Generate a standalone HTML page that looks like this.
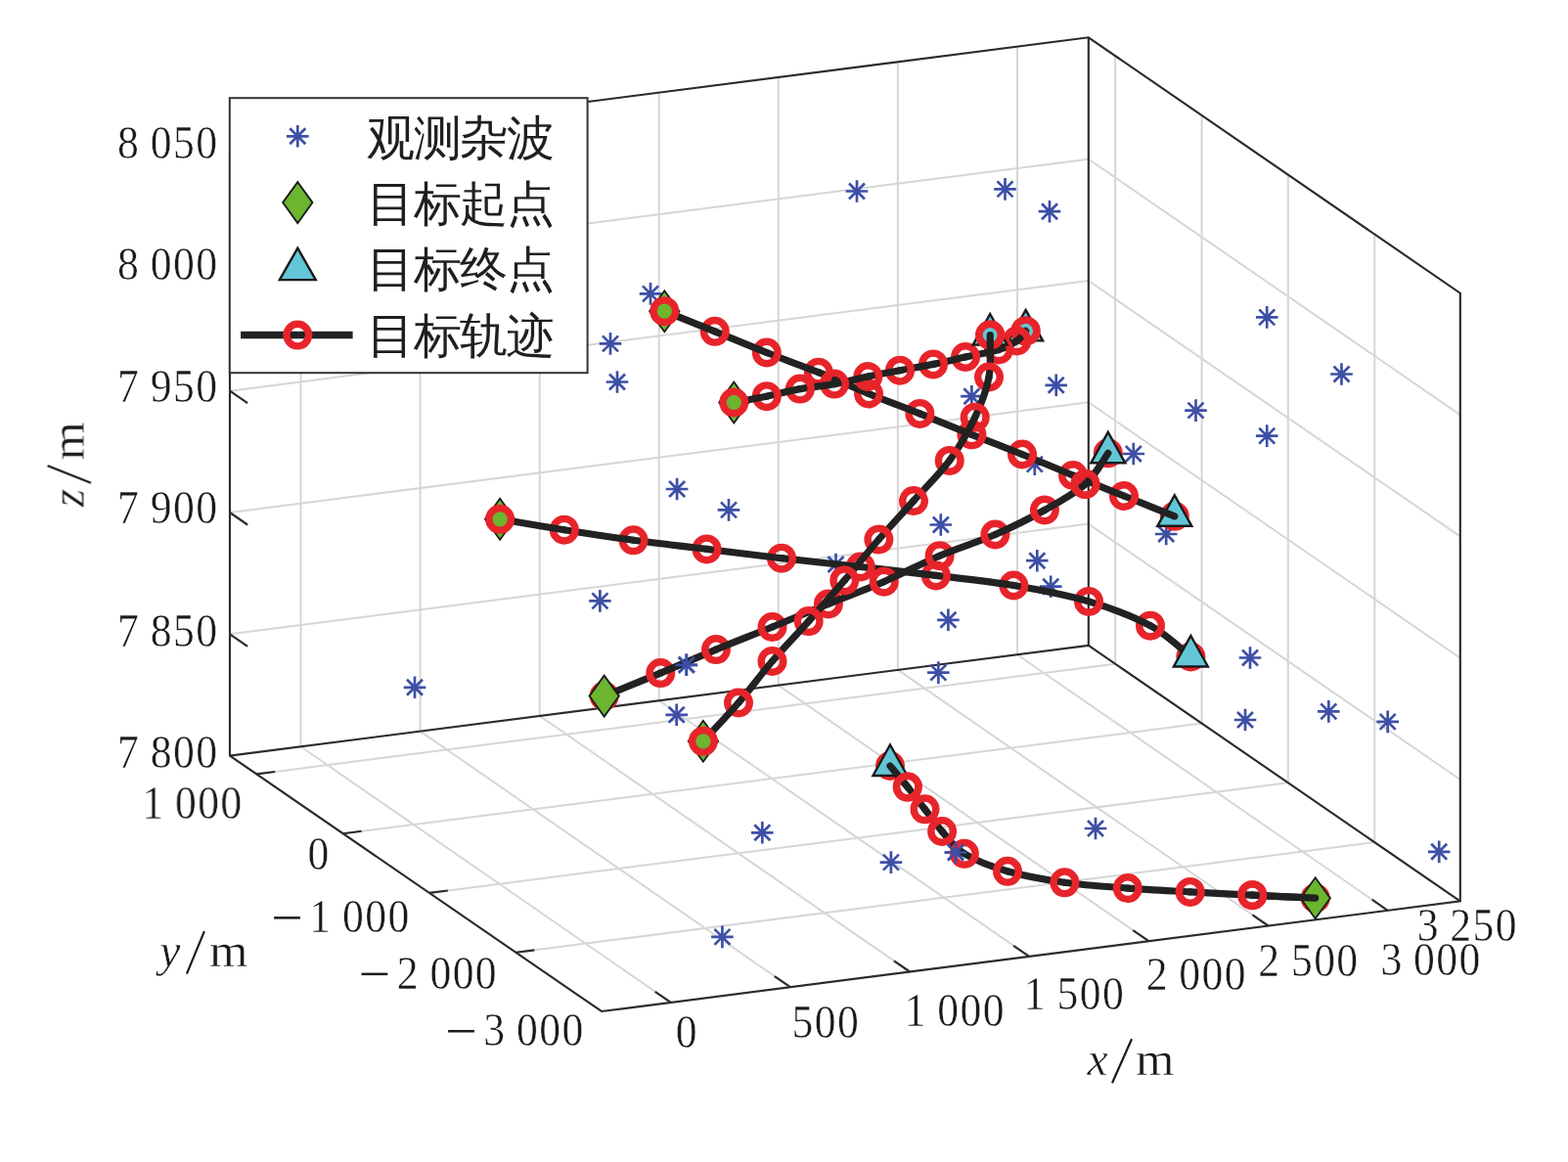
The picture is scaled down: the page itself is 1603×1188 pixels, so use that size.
<!DOCTYPE html>
<html><head><meta charset="utf-8"><title>3D track plot</title>
<style>html,body{margin:0;padding:0;background:#fff}svg{display:block;will-change:transform}text{font-family:"Liberation Serif",serif}</style>
</head><body>
<svg width="1603" height="1188" viewBox="0 0 1603 1188" role="img" aria-label="3D plot of target tracks, clutter observations, start and end points">
<g stroke-linecap="butt">
<line x1="307.5" y1="763.3" x2="685.8" y2="1024.9" stroke="#d6d6d6" stroke-width="2.0" />
<line x1="429.6" y1="747.6" x2="808.0" y2="1009.2" stroke="#d6d6d6" stroke-width="2.0" />
<line x1="551.7" y1="731.9" x2="930.1" y2="993.5" stroke="#d6d6d6" stroke-width="2.0" />
<line x1="673.7" y1="716.3" x2="1052.2" y2="977.9" stroke="#d6d6d6" stroke-width="2.0" />
<line x1="795.8" y1="700.6" x2="1174.4" y2="962.2" stroke="#d6d6d6" stroke-width="2.0" />
<line x1="917.9" y1="684.9" x2="1296.5" y2="946.5" stroke="#d6d6d6" stroke-width="2.0" />
<line x1="1040.0" y1="669.2" x2="1418.7" y2="930.8" stroke="#d6d6d6" stroke-width="2.0" />
<line x1="262.3" y1="791.4" x2="1140.1" y2="678.7" stroke="#d6d6d6" stroke-width="2.0" />
<line x1="350.8" y1="852.3" x2="1228.6" y2="739.6" stroke="#d6d6d6" stroke-width="2.0" />
<line x1="439.0" y1="912.9" x2="1316.8" y2="800.2" stroke="#d6d6d6" stroke-width="2.0" />
<line x1="527.5" y1="973.8" x2="1405.3" y2="861.1" stroke="#d6d6d6" stroke-width="2.0" />
<line x1="307.5" y1="763.3" x2="307.5" y2="141.7" stroke="#d6d6d6" stroke-width="2.0" />
<line x1="429.6" y1="747.6" x2="429.6" y2="126.0" stroke="#d6d6d6" stroke-width="2.0" />
<line x1="551.7" y1="731.9" x2="551.7" y2="110.3" stroke="#d6d6d6" stroke-width="2.0" />
<line x1="673.7" y1="716.3" x2="673.7" y2="94.7" stroke="#d6d6d6" stroke-width="2.0" />
<line x1="795.8" y1="700.6" x2="795.8" y2="79.0" stroke="#d6d6d6" stroke-width="2.0" />
<line x1="917.9" y1="684.9" x2="917.9" y2="63.3" stroke="#d6d6d6" stroke-width="2.0" />
<line x1="1040.0" y1="669.2" x2="1040.0" y2="47.6" stroke="#d6d6d6" stroke-width="2.0" />
<line x1="235.0" y1="648.3" x2="1112.8" y2="535.6" stroke="#d6d6d6" stroke-width="2.0" />
<line x1="235.0" y1="524.0" x2="1112.8" y2="411.3" stroke="#d6d6d6" stroke-width="2.0" />
<line x1="235.0" y1="399.7" x2="1112.8" y2="287.0" stroke="#d6d6d6" stroke-width="2.0" />
<line x1="235.0" y1="275.4" x2="1112.8" y2="162.7" stroke="#d6d6d6" stroke-width="2.0" />
<line x1="1140.1" y1="678.7" x2="1140.1" y2="57.1" stroke="#d6d6d6" stroke-width="2.0" />
<line x1="1228.6" y1="739.6" x2="1228.6" y2="118.0" stroke="#d6d6d6" stroke-width="2.0" />
<line x1="1316.8" y1="800.2" x2="1316.8" y2="178.6" stroke="#d6d6d6" stroke-width="2.0" />
<line x1="1405.3" y1="861.1" x2="1405.3" y2="239.5" stroke="#d6d6d6" stroke-width="2.0" />
<line x1="1112.8" y1="535.6" x2="1492.8" y2="797.0" stroke="#d6d6d6" stroke-width="2.0" />
<line x1="1112.8" y1="411.3" x2="1492.8" y2="672.7" stroke="#d6d6d6" stroke-width="2.0" />
<line x1="1112.8" y1="287.0" x2="1492.8" y2="548.4" stroke="#d6d6d6" stroke-width="2.0" />
<line x1="1112.8" y1="162.7" x2="1492.8" y2="424.1" stroke="#d6d6d6" stroke-width="2.0" />
</g>
<polyline points="235.0,151.0 235.0,772.6 615.0,1034.0 1492.8,921.3 1492.8,299.7 1112.8,38.3 235.0,151.0" fill="none" stroke="#2b2b2b" stroke-width="2.15" stroke-linejoin="miter"/>
<polyline points="235.0,772.6 1112.8,659.9 1492.8,921.3" fill="none" stroke="#2b2b2b" stroke-width="2.15" />
<line x1="1112.8" y1="659.9" x2="1112.8" y2="38.3" stroke="#2b2b2b" stroke-width="2.15" />
<line x1="235.0" y1="648.3" x2="253.1" y2="660.8" stroke="#2b2b2b" stroke-width="2.15" />
<line x1="235.0" y1="524.0" x2="253.1" y2="536.5" stroke="#2b2b2b" stroke-width="2.15" />
<line x1="235.0" y1="399.7" x2="253.1" y2="412.2" stroke="#2b2b2b" stroke-width="2.15" />
<line x1="235.0" y1="275.4" x2="253.1" y2="287.9" stroke="#2b2b2b" stroke-width="2.15" />
<line x1="235.0" y1="151.1" x2="253.1" y2="163.6" stroke="#2b2b2b" stroke-width="2.15" />
<line x1="262.3" y1="791.4" x2="281.1" y2="789.0" stroke="#2b2b2b" stroke-width="2.15" />
<line x1="350.8" y1="852.3" x2="369.6" y2="849.8" stroke="#2b2b2b" stroke-width="2.15" />
<line x1="439.0" y1="912.9" x2="457.8" y2="910.5" stroke="#2b2b2b" stroke-width="2.15" />
<line x1="527.5" y1="973.8" x2="546.3" y2="971.4" stroke="#2b2b2b" stroke-width="2.15" />
<line x1="685.8" y1="1024.9" x2="669.7" y2="1013.8" stroke="#2b2b2b" stroke-width="2.15" />
<line x1="808.0" y1="1009.2" x2="791.8" y2="998.1" stroke="#2b2b2b" stroke-width="2.15" />
<line x1="930.1" y1="993.5" x2="914.0" y2="982.4" stroke="#2b2b2b" stroke-width="2.15" />
<line x1="1052.2" y1="977.9" x2="1036.1" y2="966.8" stroke="#2b2b2b" stroke-width="2.15" />
<line x1="1174.4" y1="962.2" x2="1158.3" y2="951.1" stroke="#2b2b2b" stroke-width="2.15" />
<line x1="1296.5" y1="946.5" x2="1280.4" y2="935.4" stroke="#2b2b2b" stroke-width="2.15" />
<line x1="1418.7" y1="930.8" x2="1402.6" y2="919.7" stroke="#2b2b2b" stroke-width="2.15" />
<path d="M653.7 300.4H676.3M665.0 289.1V311.7M657.0 292.4L673.0 308.4M657.0 308.4L673.0 292.4" stroke="#3d4fa6" stroke-width="2.7" fill="none"/>
<path d="M612.7 351.4H635.3M624.0 340.1V362.7M616.0 343.4L632.0 359.4M616.0 359.4L632.0 343.4" stroke="#3d4fa6" stroke-width="2.7" fill="none"/>
<path d="M619.7 390.5H642.3M631.0 379.2V401.8M623.0 382.5L639.0 398.5M623.0 398.5L639.0 382.5" stroke="#3d4fa6" stroke-width="2.7" fill="none"/>
<path d="M680.8 500.0H703.4M692.1 488.7V511.3M684.1 492.0L700.1 508.0M684.1 508.0L700.1 492.0" stroke="#3d4fa6" stroke-width="2.7" fill="none"/>
<path d="M733.7 521.4H756.3M745.0 510.1V532.7M737.0 513.4L753.0 529.4M737.0 529.4L753.0 513.4" stroke="#3d4fa6" stroke-width="2.7" fill="none"/>
<path d="M982.1 405.2H1004.7M993.4 393.9V416.5M985.4 397.2L1001.4 413.2M985.4 413.2L1001.4 397.2" stroke="#3d4fa6" stroke-width="2.7" fill="none"/>
<path d="M1068.4 393.8H1091.0M1079.7 382.5V405.1M1071.7 385.8L1087.7 401.8M1071.7 401.8L1087.7 385.8" stroke="#3d4fa6" stroke-width="2.7" fill="none"/>
<path d="M1147.5 464.0H1170.1M1158.8 452.7V475.3M1150.8 456.0L1166.8 472.0M1150.8 472.0L1166.8 456.0" stroke="#3d4fa6" stroke-width="2.7" fill="none"/>
<path d="M1046.5 474.6H1069.1M1057.8 463.3V485.9M1049.8 466.6L1065.8 482.6M1049.8 482.6L1065.8 466.6" stroke="#3d4fa6" stroke-width="2.7" fill="none"/>
<path d="M950.5 536.5H973.1M961.8 525.2V547.8M953.8 528.5L969.8 544.5M953.8 544.5L969.8 528.5" stroke="#3d4fa6" stroke-width="2.7" fill="none"/>
<path d="M1283.9 324.4H1306.5M1295.2 313.1V335.7M1287.2 316.4L1303.2 332.4M1287.2 332.4L1303.2 316.4" stroke="#3d4fa6" stroke-width="2.7" fill="none"/>
<path d="M1360.2 382.5H1382.8M1371.5 371.2V393.8M1363.5 374.5L1379.5 390.5M1363.5 390.5L1379.5 374.5" stroke="#3d4fa6" stroke-width="2.7" fill="none"/>
<path d="M1211.2 419.6H1233.8M1222.5 408.3V430.9M1214.5 411.6L1230.5 427.6M1214.5 427.6L1230.5 411.6" stroke="#3d4fa6" stroke-width="2.7" fill="none"/>
<path d="M1283.9 445.6H1306.5M1295.2 434.3V456.9M1287.2 437.6L1303.2 453.6M1287.2 453.6L1303.2 437.6" stroke="#3d4fa6" stroke-width="2.7" fill="none"/>
<path d="M1180.9 546.0H1203.5M1192.2 534.7V557.3M1184.2 538.0L1200.2 554.0M1184.2 554.0L1200.2 538.0" stroke="#3d4fa6" stroke-width="2.7" fill="none"/>
<path d="M602.1 614.4H624.7M613.4 603.1V625.7M605.4 606.4L621.4 622.4M605.4 622.4L621.4 606.4" stroke="#3d4fa6" stroke-width="2.7" fill="none"/>
<path d="M412.7 702.8H435.3M424.0 691.5V714.1M416.0 694.8L432.0 710.8M416.0 710.8L432.0 694.8" stroke="#3d4fa6" stroke-width="2.7" fill="none"/>
<path d="M690.5 679.8H713.1M701.8 668.5V691.1M693.8 671.8L709.8 687.8M693.8 687.8L709.8 671.8" stroke="#3d4fa6" stroke-width="2.7" fill="none"/>
<path d="M680.4 730.8H703.0M691.7 719.5V742.1M683.7 722.8L699.7 738.8M683.7 738.8L699.7 722.8" stroke="#3d4fa6" stroke-width="2.7" fill="none"/>
<path d="M1049.0 573.2H1071.6M1060.3 561.9V584.5M1052.3 565.2L1068.3 581.2M1052.3 581.2L1068.3 565.2" stroke="#3d4fa6" stroke-width="2.7" fill="none"/>
<path d="M1062.9 599.7H1085.5M1074.2 588.4V611.0M1066.2 591.7L1082.2 607.7M1066.2 607.7L1082.2 591.7" stroke="#3d4fa6" stroke-width="2.7" fill="none"/>
<path d="M843.2 577.0H865.8M854.5 565.7V588.3M846.5 569.0L862.5 585.0M846.5 585.0L862.5 569.0" stroke="#3d4fa6" stroke-width="2.7" fill="none"/>
<path d="M958.1 633.8H980.7M969.4 622.5V645.1M961.4 625.8L977.4 641.8M961.4 641.8L977.4 625.8" stroke="#3d4fa6" stroke-width="2.7" fill="none"/>
<path d="M948.0 687.6H970.6M959.3 676.3V698.9M951.3 679.6L967.3 695.6M951.3 695.6L967.3 679.6" stroke="#3d4fa6" stroke-width="2.7" fill="none"/>
<path d="M1266.7 672.5H1289.3M1278.0 661.2V683.8M1270.0 664.5L1286.0 680.5M1270.0 680.5L1286.0 664.5" stroke="#3d4fa6" stroke-width="2.7" fill="none"/>
<path d="M1261.7 736.0H1284.3M1273.0 724.7V747.3M1265.0 728.0L1281.0 744.0M1265.0 744.0L1281.0 728.0" stroke="#3d4fa6" stroke-width="2.7" fill="none"/>
<path d="M1347.0 727.4H1369.6M1358.3 716.1V738.7M1350.3 719.4L1366.3 735.4M1350.3 735.4L1366.3 719.4" stroke="#3d4fa6" stroke-width="2.7" fill="none"/>
<path d="M1407.4 737.9H1430.0M1418.7 726.6V749.2M1410.7 729.9L1426.7 745.9M1410.7 745.9L1426.7 729.9" stroke="#3d4fa6" stroke-width="2.7" fill="none"/>
<path d="M768.0 851.3H790.6M779.3 840.0V862.6M771.3 843.3L787.3 859.3M771.3 859.3L787.3 843.3" stroke="#3d4fa6" stroke-width="2.7" fill="none"/>
<path d="M899.6 881.6H922.2M910.9 870.3V892.9M902.9 873.6L918.9 889.6M902.9 889.6L918.9 873.6" stroke="#3d4fa6" stroke-width="2.7" fill="none"/>
<path d="M965.7 871.5H988.3M977.0 860.2V882.8M969.0 863.5L985.0 879.5M969.0 879.5L985.0 863.5" stroke="#3d4fa6" stroke-width="2.7" fill="none"/>
<path d="M727.1 957.9H749.7M738.4 946.6V969.2M730.4 949.9L746.4 965.9M730.4 965.9L746.4 949.9" stroke="#3d4fa6" stroke-width="2.7" fill="none"/>
<path d="M1108.7 847.0H1131.3M1120.0 835.7V858.3M1112.0 839.0L1128.0 855.0M1112.0 855.0L1128.0 839.0" stroke="#3d4fa6" stroke-width="2.7" fill="none"/>
<path d="M864.7 195.5H887.3M876.0 184.2V206.8M868.0 187.5L884.0 203.5M868.0 203.5L884.0 187.5" stroke="#3d4fa6" stroke-width="2.7" fill="none"/>
<path d="M1016.2 193.4H1038.8M1027.5 182.1V204.7M1019.5 185.4L1035.5 201.4M1019.5 201.4L1035.5 185.4" stroke="#3d4fa6" stroke-width="2.7" fill="none"/>
<path d="M1061.7 216.2H1084.3M1073.0 204.9V227.5M1065.0 208.2L1081.0 224.2M1065.0 224.2L1081.0 208.2" stroke="#3d4fa6" stroke-width="2.7" fill="none"/>
<path d="M1459.9 870.8H1482.5M1471.2 859.5V882.1M1463.2 862.8L1479.2 878.8M1463.2 878.8L1479.2 862.8" stroke="#3d4fa6" stroke-width="2.7" fill="none"/>
<g><path d="M1344.7 918.2C1334.0 917.7 1301.6 916.2 1280.3 915.2" fill="none" stroke="#222222" stroke-width="7.2" stroke-linecap="round"/><path d="M1280.3 915.2C1259.0 914.2 1238.0 913.1 1216.7 911.9" fill="none" stroke="#222222" stroke-width="7.2" stroke-linecap="round"/><path d="M1216.7 911.9C1195.5 910.7 1174.2 909.7 1152.8 908.1" fill="none" stroke="#222222" stroke-width="7.2" stroke-linecap="round"/><path d="M1152.8 908.1C1131.4 906.5 1108.9 905.2 1088.4 902.3" fill="none" stroke="#222222" stroke-width="7.2" stroke-linecap="round"/><path d="M1088.4 902.3C1067.9 899.4 1047.1 895.7 1030.0 890.8" fill="none" stroke="#222222" stroke-width="7.2" stroke-linecap="round"/><path d="M1030.0 890.8C1012.9 885.9 997.0 879.6 985.9 872.8" fill="none" stroke="#222222" stroke-width="7.2" stroke-linecap="round"/><path d="M985.9 872.8C974.8 866.0 969.8 857.6 963.1 850.0" fill="none" stroke="#222222" stroke-width="7.2" stroke-linecap="round"/><path d="M963.1 850.0C956.4 842.4 951.4 834.9 945.5 827.3" fill="none" stroke="#222222" stroke-width="7.2" stroke-linecap="round"/><path d="M945.5 827.3C939.6 819.7 933.7 812.0 927.8 804.6" fill="none" stroke="#222222" stroke-width="7.2" stroke-linecap="round"/><path d="M927.8 804.6C921.9 797.2 913.0 786.6 910.0 783.0" fill="none" stroke="#222222" stroke-width="7.2" stroke-linecap="round"/><circle cx="1344.7" cy="918.2" r="11.3" fill="none" stroke="#e8242b" stroke-width="7.4"/><circle cx="1280.3" cy="915.2" r="11.3" fill="none" stroke="#e8242b" stroke-width="7.4"/><circle cx="1216.7" cy="911.9" r="11.3" fill="none" stroke="#e8242b" stroke-width="7.4"/><circle cx="1152.8" cy="908.1" r="11.3" fill="none" stroke="#e8242b" stroke-width="7.4"/><circle cx="1088.4" cy="902.3" r="11.3" fill="none" stroke="#e8242b" stroke-width="7.4"/><circle cx="1030.0" cy="890.8" r="11.3" fill="none" stroke="#e8242b" stroke-width="7.4"/><circle cx="985.9" cy="872.8" r="11.3" fill="none" stroke="#e8242b" stroke-width="7.4"/><circle cx="963.1" cy="850.0" r="11.3" fill="none" stroke="#e8242b" stroke-width="7.4"/><circle cx="945.5" cy="827.3" r="11.3" fill="none" stroke="#e8242b" stroke-width="7.4"/><circle cx="927.8" cy="804.6" r="11.3" fill="none" stroke="#e8242b" stroke-width="7.4"/><circle cx="910.0" cy="783.0" r="11.3" fill="none" stroke="#e8242b" stroke-width="7.4"/><polygon points="1344.7,897.2 1359.9,918.2 1344.7,939.2 1329.5,918.2" fill="#6cb52f" stroke="#1a1a1a" stroke-width="1.8" stroke-linejoin="miter"/><path d="M1344.7 918.2C1334.0 917.7 1301.6 916.2 1280.3 915.2" fill="none" stroke="#222222" stroke-width="7.2" stroke-linecap="round"/><circle cx="1280.3" cy="915.2" r="11.3" fill="none" stroke="#e8242b" stroke-width="7.4"/><polygon points="910.0,761.5 927.5,793.0 892.5,793.0" fill="#62c6d6" stroke="#1a1a1a" stroke-width="2.4" stroke-linejoin="miter"/><path d="M927.8 804.6C921.9 797.2 913.0 786.6 910.0 783.0" fill="none" stroke="#222222" stroke-width="7.2" stroke-linecap="round"/><circle cx="927.8" cy="804.6" r="11.3" fill="none" stroke="#e8242b" stroke-width="7.4"/></g>
<g><circle cx="1217.4" cy="671.5" r="11.3" fill="none" stroke="#e8242b" stroke-width="7.4"/><path d="M1176.0 639.7C1193.4 649.1 1210.5 666.2 1217.4 671.5" fill="none" stroke="#222222" stroke-width="7.2" stroke-linecap="round"/><polygon points="1217.4,650.0 1234.9,681.5 1199.9,681.5" fill="#62c6d6" stroke="#1a1a1a" stroke-width="2.4" stroke-linejoin="miter"/><circle cx="1176.0" cy="639.7" r="11.3" fill="none" stroke="#e8242b" stroke-width="7.4"/><path d="M1113.0 614.9C1136.3 621.8 1158.6 630.3 1176.0 639.7" fill="none" stroke="#222222" stroke-width="7.2" stroke-linecap="round"/><circle cx="1113.0" cy="614.9" r="11.3" fill="none" stroke="#e8242b" stroke-width="7.4"/><path d="M1036.3 598.5C1062.3 602.9 1089.7 608.0 1113.0 614.9" fill="none" stroke="#222222" stroke-width="7.2" stroke-linecap="round"/><circle cx="1036.3" cy="598.5" r="11.3" fill="none" stroke="#e8242b" stroke-width="7.4"/><path d="M956.8 588.4C982.9 591.6 1010.3 594.1 1036.3 598.5" fill="none" stroke="#222222" stroke-width="7.2" stroke-linecap="round"/><circle cx="956.8" cy="588.4" r="11.3" fill="none" stroke="#e8242b" stroke-width="7.4"/><path d="M879.7 579.5C906.0 582.5 930.7 585.2 956.8 588.4" fill="none" stroke="#222222" stroke-width="7.2" stroke-linecap="round"/><circle cx="879.7" cy="579.5" r="11.3" fill="none" stroke="#e8242b" stroke-width="7.4"/><path d="M799.0 570.7C825.2 573.7 853.4 576.5 879.7 579.5" fill="none" stroke="#222222" stroke-width="7.2" stroke-linecap="round"/><circle cx="799.0" cy="570.7" r="11.3" fill="none" stroke="#e8242b" stroke-width="7.4"/><path d="M722.5 561.4C747.8 564.5 772.8 567.7 799.0 570.7" fill="none" stroke="#222222" stroke-width="7.2" stroke-linecap="round"/><circle cx="722.5" cy="561.4" r="11.3" fill="none" stroke="#e8242b" stroke-width="7.4"/><path d="M647.5 552.3C671.8 555.6 697.2 558.3 722.5 561.4" fill="none" stroke="#222222" stroke-width="7.2" stroke-linecap="round"/><circle cx="647.5" cy="552.3" r="11.3" fill="none" stroke="#e8242b" stroke-width="7.4"/><path d="M576.8 541.7C599.5 545.3 623.2 549.0 647.5 552.3" fill="none" stroke="#222222" stroke-width="7.2" stroke-linecap="round"/><circle cx="576.8" cy="541.7" r="11.3" fill="none" stroke="#e8242b" stroke-width="7.4"/><path d="M511.1 530.8C522.0 532.6 554.1 538.1 576.8 541.7" fill="none" stroke="#222222" stroke-width="7.2" stroke-linecap="round"/><polygon points="511.1,509.8 526.3,530.8 511.1,551.8 495.9,530.8" fill="#6cb52f" stroke="#1a1a1a" stroke-width="1.8" stroke-linejoin="miter"/><circle cx="511.1" cy="530.8" r="11.3" fill="none" stroke="#e8242b" stroke-width="7.4"/></g>
<g><circle cx="1200.8" cy="527.8" r="11.3" fill="none" stroke="#e8242b" stroke-width="7.4"/><polygon points="1200.8,506.3 1218.3,537.8 1183.3,537.8" fill="#62c6d6" stroke="#1a1a1a" stroke-width="2.4" stroke-linejoin="miter"/><path d="M1149.0 507.0C1166.3 514.0 1192.2 524.3 1200.8 527.8" fill="none" stroke="#222222" stroke-width="7.2" stroke-linecap="round"/><circle cx="1149.0" cy="507.0" r="11.3" fill="none" stroke="#e8242b" stroke-width="7.4"/><path d="M1097.0 486.0C1114.3 493.1 1131.7 500.0 1149.0 507.0" fill="none" stroke="#222222" stroke-width="7.2" stroke-linecap="round"/><circle cx="1097.0" cy="486.0" r="11.3" fill="none" stroke="#e8242b" stroke-width="7.4"/><path d="M1045.0 464.5C1062.3 471.4 1079.7 478.9 1097.0 486.0" fill="none" stroke="#222222" stroke-width="7.2" stroke-linecap="round"/><circle cx="1045.0" cy="464.5" r="11.3" fill="none" stroke="#e8242b" stroke-width="7.4"/><path d="M993.4 444.3C1010.8 451.2 1027.7 457.6 1045.0 464.5" fill="none" stroke="#222222" stroke-width="7.2" stroke-linecap="round"/><circle cx="993.4" cy="444.3" r="11.3" fill="none" stroke="#e8242b" stroke-width="7.4"/><path d="M940.4 422.9C958.0 429.9 976.0 437.4 993.4 444.3" fill="none" stroke="#222222" stroke-width="7.2" stroke-linecap="round"/><circle cx="940.4" cy="422.9" r="11.3" fill="none" stroke="#e8242b" stroke-width="7.4"/><path d="M888.0 402.5C905.3 409.5 922.8 415.9 940.4 422.9" fill="none" stroke="#222222" stroke-width="7.2" stroke-linecap="round"/><circle cx="888.0" cy="402.5" r="11.3" fill="none" stroke="#e8242b" stroke-width="7.4"/><path d="M836.8 380.7C854.2 387.7 870.7 395.5 888.0 402.5" fill="none" stroke="#222222" stroke-width="7.2" stroke-linecap="round"/><circle cx="836.8" cy="380.7" r="11.3" fill="none" stroke="#e8242b" stroke-width="7.4"/><path d="M783.8 360.5C801.5 367.5 819.4 373.7 836.8 380.7" fill="none" stroke="#222222" stroke-width="7.2" stroke-linecap="round"/><circle cx="783.8" cy="360.5" r="11.3" fill="none" stroke="#e8242b" stroke-width="7.4"/><path d="M730.8 338.8C748.2 345.9 766.1 353.5 783.8 360.5" fill="none" stroke="#222222" stroke-width="7.2" stroke-linecap="round"/><circle cx="730.8" cy="338.8" r="11.3" fill="none" stroke="#e8242b" stroke-width="7.4"/><path d="M679.3 318.2C687.9 321.6 713.4 331.8 730.8 338.8" fill="none" stroke="#222222" stroke-width="7.2" stroke-linecap="round"/><polygon points="679.3,297.2 694.5,318.2 679.3,339.2 664.1,318.2" fill="#6cb52f" stroke="#1a1a1a" stroke-width="1.8" stroke-linejoin="miter"/><circle cx="679.3" cy="318.2" r="11.3" fill="none" stroke="#e8242b" stroke-width="7.4"/></g>
<g><circle cx="617.7" cy="711.6" r="11.3" fill="none" stroke="#e8242b" stroke-width="7.4"/><path d="M617.7 711.6C627.3 707.7 656.2 696.0 675.3 688.1" fill="none" stroke="#222222" stroke-width="7.2" stroke-linecap="round"/><circle cx="675.3" cy="688.1" r="11.3" fill="none" stroke="#e8242b" stroke-width="7.4"/><path d="M675.3 688.1C694.3 680.2 713.0 672.0 732.0 664.1" fill="none" stroke="#222222" stroke-width="7.2" stroke-linecap="round"/><circle cx="732.0" cy="664.1" r="11.3" fill="none" stroke="#e8242b" stroke-width="7.4"/><path d="M732.0 664.1C751.0 656.2 770.4 648.8 789.5 641.0" fill="none" stroke="#222222" stroke-width="7.2" stroke-linecap="round"/><circle cx="789.5" cy="641.0" r="11.3" fill="none" stroke="#e8242b" stroke-width="7.4"/><path d="M789.5 641.0C808.6 633.2 827.9 625.1 846.9 617.4" fill="none" stroke="#222222" stroke-width="7.2" stroke-linecap="round"/><circle cx="846.9" cy="617.4" r="11.3" fill="none" stroke="#e8242b" stroke-width="7.4"/><path d="M846.9 617.4C865.9 609.7 884.8 602.9 903.7 594.7" fill="none" stroke="#222222" stroke-width="7.2" stroke-linecap="round"/><circle cx="903.7" cy="594.7" r="11.3" fill="none" stroke="#e8242b" stroke-width="7.4"/><path d="M903.7 594.7C922.7 586.5 941.7 576.2 960.6 568.2" fill="none" stroke="#222222" stroke-width="7.2" stroke-linecap="round"/><circle cx="960.6" cy="568.2" r="11.3" fill="none" stroke="#e8242b" stroke-width="7.4"/><path d="M960.6 568.2C979.5 560.2 999.5 554.3 1017.4 546.5" fill="none" stroke="#222222" stroke-width="7.2" stroke-linecap="round"/><circle cx="1017.4" cy="546.5" r="11.3" fill="none" stroke="#e8242b" stroke-width="7.4"/><path d="M1017.4 546.5C1035.3 538.7 1052.6 530.1 1067.9 521.5" fill="none" stroke="#222222" stroke-width="7.2" stroke-linecap="round"/><circle cx="1067.9" cy="521.5" r="11.3" fill="none" stroke="#e8242b" stroke-width="7.4"/><path d="M1067.9 521.5C1083.2 512.9 1098.7 504.7 1109.5 495.0" fill="none" stroke="#222222" stroke-width="7.2" stroke-linecap="round"/><circle cx="1109.5" cy="495.0" r="11.3" fill="none" stroke="#e8242b" stroke-width="7.4"/><path d="M1109.5 495.0C1120.3 485.3 1128.9 468.6 1132.8 463.3" fill="none" stroke="#222222" stroke-width="7.2" stroke-linecap="round"/><circle cx="1132.8" cy="463.3" r="11.3" fill="none" stroke="#e8242b" stroke-width="7.4"/><polygon points="617.7,690.6 632.9,711.6 617.7,732.6 602.5,711.6" fill="#6cb52f" stroke="#1a1a1a" stroke-width="1.8" stroke-linejoin="miter"/><polygon points="1132.8,441.8 1150.3,473.3 1115.3,473.3" fill="#62c6d6" stroke="#1a1a1a" stroke-width="2.4" stroke-linejoin="miter"/><path d="M1109.5 495.0C1120.3 485.3 1128.9 468.6 1132.8 463.3" fill="none" stroke="#222222" stroke-width="7.2" stroke-linecap="round"/><circle cx="1109.5" cy="495.0" r="11.3" fill="none" stroke="#e8242b" stroke-width="7.4"/></g>
<g><polygon points="1048.6,316.9 1066.1,348.4 1031.1,348.4" fill="#62c6d6" stroke="#1a1a1a" stroke-width="2.4" stroke-linejoin="miter"/><circle cx="1048.6" cy="338.4" r="11.3" fill="none" stroke="#e8242b" stroke-width="7.4"/><circle cx="1048.6" cy="338.4" r="11.3" fill="none" stroke="#e8242b" stroke-width="7.4"/><path d="M1039.5 348.5C1044.1 345.3 1047.1 340.1 1048.6 338.4" fill="none" stroke="#222222" stroke-width="7.2" stroke-linecap="round"/><circle cx="1039.5" cy="348.5" r="11.3" fill="none" stroke="#e8242b" stroke-width="7.4"/><path d="M1021.0 357.5C1029.8 354.8 1034.9 351.7 1039.5 348.5" fill="none" stroke="#222222" stroke-width="7.2" stroke-linecap="round"/><circle cx="1021.0" cy="357.5" r="11.3" fill="none" stroke="#e8242b" stroke-width="7.4"/><path d="M987.0 365.0C998.2 362.5 1012.2 360.2 1021.0 357.5" fill="none" stroke="#222222" stroke-width="7.2" stroke-linecap="round"/><circle cx="987.0" cy="365.0" r="11.3" fill="none" stroke="#e8242b" stroke-width="7.4"/><path d="M954.0 372.4C965.2 370.1 975.8 367.5 987.0 365.0" fill="none" stroke="#222222" stroke-width="7.2" stroke-linecap="round"/><circle cx="954.0" cy="372.4" r="11.3" fill="none" stroke="#e8242b" stroke-width="7.4"/><path d="M920.0 378.7C931.1 376.6 942.8 374.7 954.0 372.4" fill="none" stroke="#222222" stroke-width="7.2" stroke-linecap="round"/><circle cx="920.0" cy="378.7" r="11.3" fill="none" stroke="#e8242b" stroke-width="7.4"/><path d="M887.3 385.0C898.5 382.7 908.9 380.8 920.0 378.7" fill="none" stroke="#222222" stroke-width="7.2" stroke-linecap="round"/><circle cx="887.3" cy="385.0" r="11.3" fill="none" stroke="#e8242b" stroke-width="7.4"/><path d="M853.0 392.6C864.6 390.5 876.1 387.3 887.3 385.0" fill="none" stroke="#222222" stroke-width="7.2" stroke-linecap="round"/><circle cx="853.0" cy="392.6" r="11.3" fill="none" stroke="#e8242b" stroke-width="7.4"/><path d="M817.9 397.6C829.4 395.5 841.4 394.7 853.0 392.6" fill="none" stroke="#222222" stroke-width="7.2" stroke-linecap="round"/><circle cx="817.9" cy="397.6" r="11.3" fill="none" stroke="#e8242b" stroke-width="7.4"/><path d="M783.8 405.2C795.1 402.9 806.4 399.7 817.9 397.6" fill="none" stroke="#222222" stroke-width="7.2" stroke-linecap="round"/><circle cx="783.8" cy="405.2" r="11.3" fill="none" stroke="#e8242b" stroke-width="7.4"/><path d="M750.3 411.5C755.9 410.4 772.5 407.5 783.8 405.2" fill="none" stroke="#222222" stroke-width="7.2" stroke-linecap="round"/><polygon points="750.3,390.5 765.5,411.5 750.3,432.5 735.1,411.5" fill="#6cb52f" stroke="#1a1a1a" stroke-width="1.8" stroke-linejoin="miter"/><circle cx="750.3" cy="411.5" r="11.3" fill="none" stroke="#e8242b" stroke-width="7.4"/></g>
<g><polygon points="1012.2,321.0 1029.7,352.5 994.7,352.5" fill="#62c6d6" stroke="#1a1a1a" stroke-width="2.4" stroke-linejoin="miter"/><circle cx="1012.2" cy="342.5" r="11.3" fill="none" stroke="#e8242b" stroke-width="7.4"/><circle cx="1012.2" cy="342.5" r="11.3" fill="none" stroke="#e8242b" stroke-width="7.4"/><path d="M1011.0 385.5C1013.6 371.5 1012.0 349.7 1012.2 342.5" fill="none" stroke="#222222" stroke-width="7.2" stroke-linecap="round"/><circle cx="1011.0" cy="385.5" r="11.3" fill="none" stroke="#e8242b" stroke-width="7.4"/><path d="M996.7 426.7C1003.4 412.5 1008.4 399.5 1011.0 385.5" fill="none" stroke="#222222" stroke-width="7.2" stroke-linecap="round"/><circle cx="996.7" cy="426.7" r="11.3" fill="none" stroke="#e8242b" stroke-width="7.4"/><path d="M970.7 470.9C981.2 456.7 990.0 440.9 996.7 426.7" fill="none" stroke="#222222" stroke-width="7.2" stroke-linecap="round"/><circle cx="970.7" cy="470.9" r="11.3" fill="none" stroke="#e8242b" stroke-width="7.4"/><path d="M934.0 512.0C946.0 498.6 960.2 485.1 970.7 470.9" fill="none" stroke="#222222" stroke-width="7.2" stroke-linecap="round"/><circle cx="934.0" cy="512.0" r="11.3" fill="none" stroke="#e8242b" stroke-width="7.4"/><path d="M898.4 551.5C910.2 537.9 922.0 525.4 934.0 512.0" fill="none" stroke="#222222" stroke-width="7.2" stroke-linecap="round"/><circle cx="898.4" cy="551.5" r="11.3" fill="none" stroke="#e8242b" stroke-width="7.4"/><path d="M863.3 593.4C875.2 579.5 886.6 565.1 898.4 551.5" fill="none" stroke="#222222" stroke-width="7.2" stroke-linecap="round"/><circle cx="863.3" cy="593.4" r="11.3" fill="none" stroke="#e8242b" stroke-width="7.4"/><path d="M826.7 635.1C839.0 621.3 851.3 607.3 863.3 593.4" fill="none" stroke="#222222" stroke-width="7.2" stroke-linecap="round"/><circle cx="826.7" cy="635.1" r="11.3" fill="none" stroke="#e8242b" stroke-width="7.4"/><path d="M789.5 676.0C801.5 662.1 814.4 648.9 826.7 635.1" fill="none" stroke="#222222" stroke-width="7.2" stroke-linecap="round"/><circle cx="789.5" cy="676.0" r="11.3" fill="none" stroke="#e8242b" stroke-width="7.4"/><path d="M755.0 718.5C766.8 704.9 777.5 689.9 789.5 676.0" fill="none" stroke="#222222" stroke-width="7.2" stroke-linecap="round"/><circle cx="755.0" cy="718.5" r="11.3" fill="none" stroke="#e8242b" stroke-width="7.4"/><path d="M718.9 757.8C724.9 751.2 743.2 732.1 755.0 718.5" fill="none" stroke="#222222" stroke-width="7.2" stroke-linecap="round"/><polygon points="718.9,736.8 734.1,757.8 718.9,778.8 703.7,757.8" fill="#6cb52f" stroke="#1a1a1a" stroke-width="1.8" stroke-linejoin="miter"/><circle cx="718.9" cy="757.8" r="11.3" fill="none" stroke="#e8242b" stroke-width="7.4"/></g>
<path d="M690.5 679.8H713.1M701.8 668.5V691.1M693.8 671.8L709.8 687.8M693.8 687.8L709.8 671.8" stroke="#3d4fa6" stroke-width="2.7" fill="none"/>
<path d="M965.7 871.5H988.3M977.0 860.2V882.8M969.0 863.5L985.0 879.5M969.0 879.5L985.0 863.5" stroke="#3d4fa6" stroke-width="2.7" fill="none"/>
<rect x="234.8" y="100.2" width="365.8" height="281.0" fill="#fff" stroke="#333" stroke-width="2"/>
<path d="M293.0 139.3H315.6M304.3 128.0V150.6M296.3 131.3L312.3 147.3M296.3 147.3L312.3 131.3" stroke="#3d4fa6" stroke-width="2.7" fill="none"/>
<polygon points="304.3,186.1 319.5,207.1 304.3,228.1 289.1,207.1" fill="#6cb52f" stroke="#1a1a1a" stroke-width="1.8" stroke-linejoin="miter"/>
<polygon points="304.3,253.7 322.8,286.1 285.8,286.1" fill="#62c6d6" stroke="#1a1a1a" stroke-width="2.4" stroke-linejoin="miter"/>
<line x1="246.1" y1="342.6" x2="360.6" y2="342.6" stroke="#222222" stroke-width="7.5"/>
<circle cx="304.3" cy="342.6" r="11.3" fill="none" stroke="#e8242b" stroke-width="7.4"/>
<g fill="#1f1f1f" font-family="&quot;Liberation Serif&quot;, &quot;Noto Serif CJK SC&quot;, serif" font-size="49"><title>观测杂波 目标起点 目标终点 目标轨迹</title>
<text x="375.29 422.89 470.49 518.09" y="157.77" font-family="&quot;Liberation Serif&quot;, &quot;Noto Serif CJK SC&quot;, serif" font-size="49" fill="#1f1f1f">观测杂波</text>
<text x="375.29 422.89 470.49 518.09" y="225.27" font-family="&quot;Liberation Serif&quot;, &quot;Noto Serif CJK SC&quot;, serif" font-size="49" fill="#1f1f1f">目标起点</text>
<text x="375.29 422.89 470.49 518.09" y="291.97" font-family="&quot;Liberation Serif&quot;, &quot;Noto Serif CJK SC&quot;, serif" font-size="49" fill="#1f1f1f">目标终点</text>
<text x="375.29 422.89 470.49 518.09" y="360.27" font-family="&quot;Liberation Serif&quot;, &quot;Noto Serif CJK SC&quot;, serif" font-size="49" fill="#1f1f1f">目标轨迹</text>
</g>
<text transform="translate(223.4,162.0) scale(0.92,1)" text-anchor="end" font-family="Liberation Serif, serif" font-size="47.5" letter-spacing="1.5" word-spacing="-2.0" fill="#1a1a1a" stroke="#fff" stroke-width="0.45">8 050</text>
<text transform="translate(223.4,286.1) scale(0.92,1)" text-anchor="end" font-family="Liberation Serif, serif" font-size="47.5" letter-spacing="1.5" word-spacing="-2.0" fill="#1a1a1a" stroke="#fff" stroke-width="0.45">8 000</text>
<text transform="translate(223.4,411.3) scale(0.92,1)" text-anchor="end" font-family="Liberation Serif, serif" font-size="47.5" letter-spacing="1.5" word-spacing="-2.0" fill="#1a1a1a" stroke="#fff" stroke-width="0.45">7 950</text>
<text transform="translate(223.4,535.4) scale(0.92,1)" text-anchor="end" font-family="Liberation Serif, serif" font-size="47.5" letter-spacing="1.5" word-spacing="-2.0" fill="#1a1a1a" stroke="#fff" stroke-width="0.45">7 900</text>
<text transform="translate(223.4,660.6) scale(0.92,1)" text-anchor="end" font-family="Liberation Serif, serif" font-size="47.5" letter-spacing="1.5" word-spacing="-2.0" fill="#1a1a1a" stroke="#fff" stroke-width="0.45">7 850</text>
<text transform="translate(223.4,784.8) scale(0.92,1)" text-anchor="end" font-family="Liberation Serif, serif" font-size="47.5" letter-spacing="1.5" word-spacing="-2.0" fill="#1a1a1a" stroke="#fff" stroke-width="0.45">7 800</text>
<text transform="translate(248.6,836.9) scale(0.92,1)" text-anchor="end" font-family="Liberation Serif, serif" font-size="47.5" letter-spacing="1.5" word-spacing="-2.0" fill="#1a1a1a" stroke="#fff" stroke-width="0.45">1 000</text>
<text transform="translate(337.8,889.3) scale(0.92,1)" text-anchor="end" font-family="Liberation Serif, serif" font-size="47.5" letter-spacing="1.5" word-spacing="-2.0" fill="#1a1a1a" stroke="#fff" stroke-width="0.45">0</text>
<text transform="translate(419.7,953.0) scale(0.92,1)" text-anchor="end" font-family="Liberation Serif, serif" font-size="47.5" letter-spacing="1.5" word-spacing="-2.0" fill="#1a1a1a" stroke="#fff" stroke-width="0.45">1 000</text>
<rect x="280.1" y="937.1" width="26.8" height="2.5" fill="#1a1a1a"/>
<text transform="translate(509.1,1010.5) scale(0.92,1)" text-anchor="end" font-family="Liberation Serif, serif" font-size="47.5" letter-spacing="1.5" word-spacing="-2.0" fill="#1a1a1a" stroke="#fff" stroke-width="0.45">2 000</text>
<rect x="369.5" y="994.6" width="26.8" height="2.5" fill="#1a1a1a"/>
<text transform="translate(597.7,1068.9) scale(0.92,1)" text-anchor="end" font-family="Liberation Serif, serif" font-size="47.5" letter-spacing="1.5" word-spacing="-2.0" fill="#1a1a1a" stroke="#fff" stroke-width="0.45">3 000</text>
<rect x="458.1" y="1053.0" width="26.8" height="2.5" fill="#1a1a1a"/>
<text transform="translate(713.9,1070.9) scale(0.92,1)" text-anchor="end" font-family="Liberation Serif, serif" font-size="47.5" letter-spacing="1.5" word-spacing="-2.0" fill="#1a1a1a" stroke="#fff" stroke-width="0.45">0</text>
<text transform="translate(879.2,1060.9) scale(0.92,1)" text-anchor="end" font-family="Liberation Serif, serif" font-size="47.5" letter-spacing="1.5" word-spacing="-2.0" fill="#1a1a1a" stroke="#fff" stroke-width="0.45">500</text>
<text transform="translate(1028.0,1048.5) scale(0.92,1)" text-anchor="end" font-family="Liberation Serif, serif" font-size="47.5" letter-spacing="1.5" word-spacing="-2.0" fill="#1a1a1a" stroke="#fff" stroke-width="0.45">1 000</text>
<text transform="translate(1150.2,1031.8) scale(0.92,1)" text-anchor="end" font-family="Liberation Serif, serif" font-size="47.5" letter-spacing="1.5" word-spacing="-2.0" fill="#1a1a1a" stroke="#fff" stroke-width="0.45">1 500</text>
<text transform="translate(1275.0,1011.9) scale(0.92,1)" text-anchor="end" font-family="Liberation Serif, serif" font-size="47.5" letter-spacing="1.5" word-spacing="-2.0" fill="#1a1a1a" stroke="#fff" stroke-width="0.45">2 000</text>
<text transform="translate(1389.6,997.8) scale(0.92,1)" text-anchor="end" font-family="Liberation Serif, serif" font-size="47.5" letter-spacing="1.5" word-spacing="-2.0" fill="#1a1a1a" stroke="#fff" stroke-width="0.45">2 500</text>
<text transform="translate(1514.8,996.5) scale(0.92,1)" text-anchor="end" font-family="Liberation Serif, serif" font-size="47.5" letter-spacing="1.5" word-spacing="-2.0" fill="#1a1a1a" stroke="#fff" stroke-width="0.45">3 000</text>
<text transform="translate(1552.0,962.4) scale(0.92,1)" text-anchor="end" font-family="Liberation Serif, serif" font-size="47.5" letter-spacing="1.5" word-spacing="-2.0" fill="#1a1a1a" stroke="#fff" stroke-width="0.45">3 250</text>
<text x="1111.4" y="1098.5" font-family="Liberation Serif, serif" font-size="47.5" font-style="italic" fill="#1a1a1a" stroke="#fff" stroke-width="0.45" >x</text>
<line x1="1137.0" y1="1107.2" x2="1157.0" y2="1062.3" stroke="#1a1a1a" stroke-width="2.2" />
<text transform="translate(1161.0,1098.5) scale(1.07,1)" font-family="Liberation Serif, serif" font-size="47.5" fill="#1a1a1a" stroke="#fff" stroke-width="0.45" >m</text>
<text x="163.3" y="987.5" font-family="Liberation Serif, serif" font-size="47.5" font-style="italic" fill="#1a1a1a" stroke="#fff" stroke-width="0.45" >y</text>
<line x1="190.9" y1="995.6" x2="208.9" y2="952.2" stroke="#1a1a1a" stroke-width="2.2" />
<text transform="translate(214.0,987.5) scale(1.07,1)" font-family="Liberation Serif, serif" font-size="47.5" fill="#1a1a1a" stroke="#fff" stroke-width="0.45" >m</text>
<g transform="translate(85.6,516.9) rotate(-90)">
<text x="-1.5" y="0.0" font-family="Liberation Serif, serif" font-size="47.5" font-style="italic" fill="#1a1a1a" stroke="#fff" stroke-width="0.45" >z</text>
<line x1="23.2" y1="7.4" x2="40.8" y2="-37.0" stroke="#1a1a1a" stroke-width="2.2" />
<text transform="translate(46.3,0.0) scale(1.07,1)" font-family="Liberation Serif, serif" font-size="47.5" fill="#1a1a1a" stroke="#fff" stroke-width="0.45" >m</text>
</g>
</svg>
</body></html>
